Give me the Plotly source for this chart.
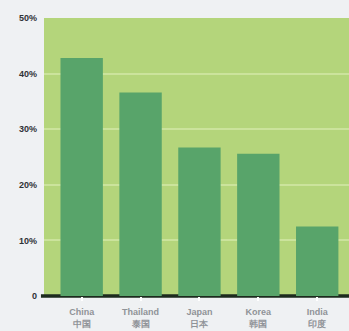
import plotly.graph_objects as go

categories_en = ["China", "Thailand", "Japan", "Korea", "India"]
categories_zh = ["中国", "泰国", "日本", "韩国", "印度"]
values = [42.8, 36.6, 26.7, 25.6, 12.5]
y_ticks = [0, 10, 20, 30, 40, 50]
y_tick_labels = ["0", "10%", "20%", "30%", "40%", "50%"]

x_labels = [f"{e}<br>{z}" for e, z in zip(categories_en, categories_zh)]

fig = go.Figure(
    go.Bar(
        x=list(range(len(values))),
        y=values,
        marker=dict(color="#58a46a", line=dict(width=0)),
        width=0.72,
    )
)

fig.update_layout(
    width=349,
    height=331,
    margin=dict(l=44, r=0, t=18, b=35),
    paper_bgcolor="#eff1f3",
    plot_bgcolor="#b4d57b",
    showlegend=False,
    font=dict(family="Liberation Sans, Arial, sans-serif"),
    shapes=[
        dict(
            type="line", xref="paper", yref="paper",
            x0=-0.01, x1=1, y0=0, y1=0,
            line=dict(color="#1c2b1e", width=3.5),
            layer="below",
        )
    ],
)

fig.update_xaxes(
    range=[-0.64, 4.54],
    tickmode="array",
    tickvals=list(range(len(values))),
    ticktext=x_labels,
    tickfont=dict(size=9, color="#8f9398", weight="bold"),
    showline=False,
    ticks="outside",
    tickcolor="#ffffff",
    ticklen=4,
    tickwidth=2,
    ticklabelstandoff=3,
    showgrid=False,
    zeroline=False,
)

fig.update_yaxes(
    range=[0, 50],
    tickmode="array",
    tickvals=y_ticks,
    ticktext=y_tick_labels,
    tickfont=dict(size=9, color="#2f3236", weight="bold"),
    showgrid=True,
    gridcolor="#cbe39c",
    gridwidth=1.5,
    zeroline=False,
    showline=False,
    ticks="",
    ticklabelstandoff=6,
)

fig.write_html("out.html")
